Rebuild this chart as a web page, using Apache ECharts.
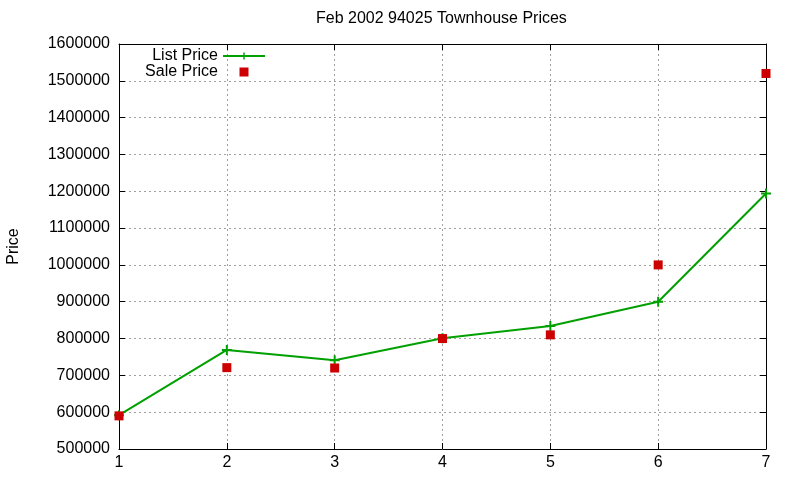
<!DOCTYPE html>
<html>
<head>
<meta charset="utf-8">
<script src="https://cdn.jsdelivr.net/npm/echarts@6/dist/echarts.min.js"></script>
<style>
  html, body { margin: 0; padding: 0; background: #fff; }
  #chart { width: 800px; height: 480px; }
</style>
</head>
<body>
<div id="chart"></div>
<script>
// 数据
var units = [1, 2, 3, 4, 5, 6, 7];
var listPrice = [592000, 769000, 741000, 801000, 834000, 900000, 1194000];
var salePrice = [590000, 721000, 720000, 800000, 810000, 1000000, 1520000];

var plusIcon = 'path://M4,0h2v4h4v2h-4v4h-2v-4h-4v-2h4z';
var squareIcon = 'path://M0,0h1v1h-1z';
var font = 'Liberation Sans, Arial, sans-serif';

(function () {
  var myChart = echarts.init(document.getElementById('chart'));

  var gridLine = { show: true, lineStyle: { color: '#a0a0a0', type: [2, 3], width: 1 } };
  var frame = { show: true, lineStyle: { color: '#000', width: 1 } };
  var ticks = { show: true, inside: true, length: 6, lineStyle: { color: '#000' } };

  var option = {
    animation: false,
    title: {
      text: 'Feb 2002 94025 Townhouse Prices',
      left: 316,
      top: 11,
      padding: 0,
      textStyle: { fontFamily: font, fontSize: 16, fontWeight: 'normal', color: '#000' }
    },
    legend: {
      orient: 'vertical',
      right: 534,
      top: 48,
      padding: 0,
      align: 'right',
      itemWidth: 42,
      itemHeight: 9,
      itemGap: 0,
      textStyle: { fontFamily: font, fontSize: 16, color: '#000' },
      data: [
        { name: 'List Price' },
        { name: 'Sale Price', icon: squareIcon }
      ]
    },
    grid: { left: 119, right: 34, top: 44, bottom: 31, containLabel: false, outerBoundsMode: 'none' },
    xAxis: [{
      type: 'value',
      min: 1,
      max: 7,
      interval: 1,
      axisLine: frame,
      axisTick: ticks,
      splitLine: gridLine,
      axisLabel: { fontFamily: font, fontSize: 16, color: '#000', margin: 6 }
    }, {
      type: 'value',
      position: 'top',
      min: 1,
      max: 7,
      interval: 1,
      axisLine: frame,
      axisTick: ticks,
      splitLine: { show: false },
      axisLabel: { show: false }
    }],
    yAxis: [{
      type: 'value',
      name: 'Price',
      nameLocation: 'middle',
      nameGap: 97,
      nameTextStyle: { fontFamily: font, fontSize: 16, color: '#000' },
      min: 500000,
      max: 1600000,
      interval: 100000,
      axisLine: frame,
      axisTick: ticks,
      splitLine: gridLine,
      axisLabel: {
        fontFamily: font, fontSize: 16, color: '#000', margin: 9,
        formatter: function (v) { return String(v); }
      }
    }, {
      type: 'value',
      position: 'right',
      min: 500000,
      max: 1600000,
      interval: 100000,
      axisLine: frame,
      axisTick: ticks,
      splitLine: { show: false },
      axisLabel: { show: false }
    }],
    series: [{
      name: 'List Price',
      type: 'line',
      data: units.map(function (u, i) { return [u, listPrice[i]]; }),
      symbol: plusIcon,
      symbolSize: 10,
      showAllSymbol: true,
      lineStyle: { color: '#00a000', width: 2 },
      itemStyle: { color: '#00a000' },
      clip: false,
      z: 2
    }, {
      name: 'Sale Price',
      type: 'scatter',
      data: units.map(function (u, i) { return [u, salePrice[i]]; }),
      symbol: 'rect',
      symbolSize: 9,
      itemStyle: { color: '#cc0000', opacity: 1 },
      clip: false,
      z: 3
    }]
  };

  myChart.setOption(option);
  window.addEventListener('resize', function () {
    myChart.resize();
  });
})();
</script>
</body>
</html>
